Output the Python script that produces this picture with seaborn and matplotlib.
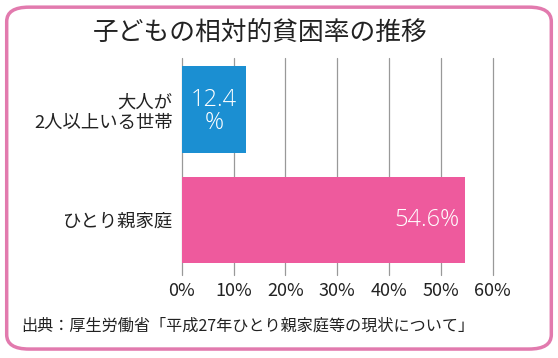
import pandas as pd
import seaborn as sns
import matplotlib.pyplot as plt
from matplotlib.patches import FancyBboxPatch

categories = ["大人が\n2人以上いる世帯", "ひとり親家庭"]
rates = [12.4, 54.6]
bar_labels = ["12.4\n%", "54.6%"]
colors = ["#1b8fd2", "#ee5a9d"]
xticks = [0, 10, 20, 30, 40, 50, 60]
title = "子どもの相対的貧困率の推移"
source = "出典：厚生労働省「平成27年ひとり親家庭等の現状について」"

data = pd.DataFrame({"group": categories, "rate": rates})

sns.set_style("white")
plt.rcParams["font.family"] = ["Noto Sans CJK JP", "DejaVu Sans"]

fig = plt.figure(figsize=(5.58, 3.58), dpi=100)
fig.patch.set_facecolor("white")

# rounded pink frame
frame = FancyBboxPatch((0.012, 0.025), 0.976, 0.955,
                       boxstyle="round,pad=0,rounding_size=0.04",
                       transform=fig.transFigure, facecolor="white",
                       edgecolor="#e27aae", linewidth=2.5, zorder=-5)
fig.patches.append(frame)

ax = fig.add_axes([0.3256, 0.232, 0.5573, 0.606])
ax.set_zorder(2)
ax.set_facecolor("none")

plot = sns.barplot(data=data, x="rate", y="group", hue="group",
                   palette=colors, saturation=1, orient="h", width=0.78,
                   linewidth=0, legend=False, ax=ax, zorder=3)

ax.set_xlim(0, 60)
ax.set_ylim(1.495, -0.464)
ax.set_xticks(xticks)
ax.set_xticklabels([f"{t}%" for t in xticks])
ax.grid(axis="x", color="#999999", linewidth=0.9, zorder=0)
ax.set_axisbelow(True)
for gl in ax.get_xgridlines():
    gl.set_clip_on(False)
for s in ax.spines.values():
    s.set_visible(False)
ax.tick_params(left=False, bottom=False, colors="#222222")
ax.tick_params(axis="x", pad=1.5, labelsize=13)
ax.tick_params(axis="y", pad=3, labelsize=13.2)
for lab in ax.get_yticklabels():
    lab.set_horizontalalignment("right")
    lab.set_multialignment("right")
    lab.set_linespacing(1.15)
ax.set_xlabel("")
ax.set_ylabel("")

# value labels inside bars
ax.text(rates[0] / 2, 0.02, bar_labels[0], color="white", fontsize=17,
        ha="center", va="center", linespacing=0.95, zorder=5,
        family=["Open Sans", "DejaVu Sans"], fontweight="light")
ax.text(rates[1] - 1.0, 1.0, bar_labels[1], color="white", fontsize=17,
        ha="right", va="center", zorder=5,
        family=["Open Sans", "DejaVu Sans"], fontweight="light")

fig.text(0.467, 0.908, title, ha="center", va="center", fontsize=18.5,
         color="#222222")
fig.text(0.038, 0.09, source, ha="left", va="center", fontsize=11.6,
         color="#222222")

fig.savefig("out.png", dpi=100)
